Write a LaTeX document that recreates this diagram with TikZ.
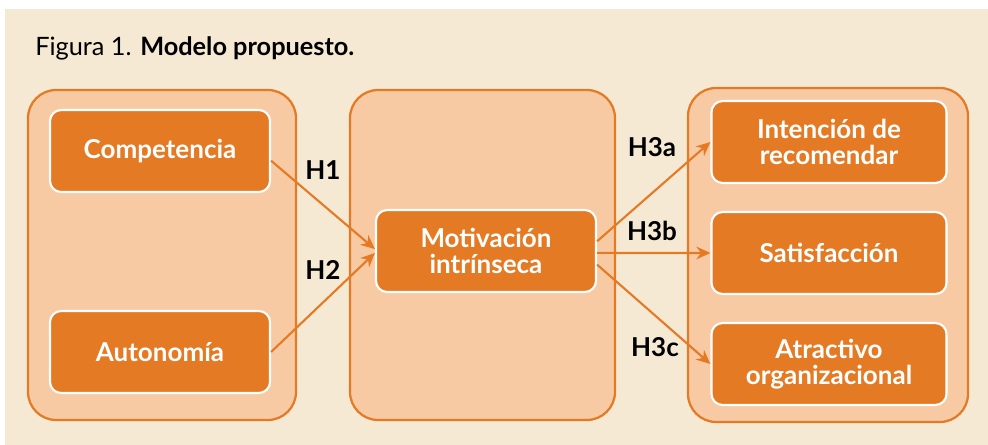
\documentclass[tikz,border=0pt]{standalone}
\usepackage{fontspec}
\setmainfont{Lato}
\usetikzlibrary{arrows.meta}
\definecolor{fondo}{HTML}{F5E9D4}
\definecolor{relleno}{HTML}{F7CAA4}
\definecolor{naranja}{HTML}{E57A25}
\tikzset{
  grupo/.style={draw=naranja, line width=1.6pt, fill=relleno, rounded corners=20pt},
  caja/.style={draw=white, line width=1.5pt, fill=naranja, rounded corners=8pt,
    text=white, font=\fontsize{18.5}{18.5}\selectfont\bfseries, align=center,
    minimum width=5.5cm, minimum height=2.05cm, inner sep=0pt},
  ancha/.style={minimum width=5.875cm},
  hip/.style={font=\fontsize{18.5}{18.5}\selectfont\bfseries, text=black},
  flecha/.style={draw=naranja, line width=1.5pt, -{Stealth[length=10pt,width=9pt]}}
}
\begin{document}
\begin{tikzpicture}[x=0.025cm,y=-0.025cm]
      \useasboundingbox (0,0) rectangle (988,445);
      \fill[white] (0,0) rectangle (988,445);
      \fill[fondo] (5,9) rectangle (988,445);
      \node[anchor=base west, inner sep=0pt, font=\fontsize{18}{18}\selectfont] (titulo) at (35,56)
        {Figura 1. \textbf{Modelo propuesto.}};
      \draw[grupo] (28,90) rectangle (296,420);
      \draw[grupo] (350,90) rectangle (615,420);
      \draw[grupo] (688,88) rectangle (968,422);
      \draw
        (160,151) node[caja] (comp){Competencia}
        (160,352) node[caja] (auto){Autonomía}
        (486,251) node[caja] (mot){Motivación\\intrínseca}
        (829,142) node[caja,ancha] (int){Intención de\\recomendar}
        (829,253) node[caja,ancha] (sat){Satisfacción}
        (829,364) node[caja,ancha] (atr){Atractivo\\organizacional};
      \begin{scope}[flecha]
        \draw (comp.-5) to (mot.179);
        \draw (auto.east) to (mot.181);
        \draw (mot.5) to (int.west);
        \draw (mot.-1) to (sat.west);
        \draw (mot.-7) to (atr.west);
      \end{scope}
      \draw
        (323,170) node[hip] (h1){H1}
        (323,270) node[hip] (h2){H2}
        (652,147) node[hip] (h3a){H3a}
        (652,231) node[hip] (h3b){H3b}
        (655,347) node[hip] (h3c){H3c};
    \end{tikzpicture}
\end{document}
